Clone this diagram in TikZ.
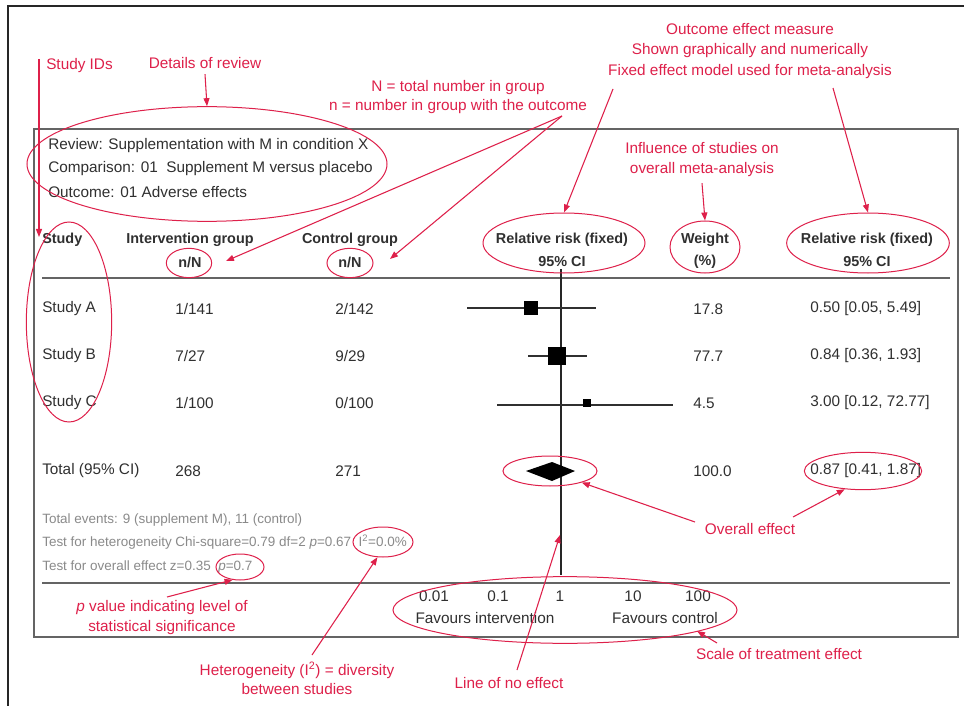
\documentclass[tikz,border=0pt]{standalone}
\usepackage{fontspec}
\setmainfont{Liberation Sans}
\usetikzlibrary{arrows.meta,shapes.geometric}
\definecolor{ann}{RGB}{222,32,74}
\definecolor{txt}{RGB}{48,48,48}
\definecolor{ftr}{RGB}{138,138,138}
\definecolor{frm}{RGB}{100,100,100}
\begin{document}
\begin{tikzpicture}[x=0.75pt,y=-0.75pt,
  t/.style={inner sep=0pt, text=txt, font=\fontsize{11.5}{13}\selectfont},
  hd/.style={inner sep=0pt, text=txt, font=\fontsize{10.8}{13}\selectfont\bfseries},
  ft/.style={inner sep=0pt, text=ftr, font=\fontsize{10.1}{12}\selectfont},
  an/.style={inner sep=0pt, text=ann, font=\fontsize{11.5}{14.5}\selectfont, align=center},
  ring/.style={draw=ann, line width=0.75pt, ellipse, inner sep=0pt},
  arr/.style={draw=ann, line width=0.8pt, -{Triangle[length=6pt,width=4.5pt]}},
  sq/.style={fill=black, draw=none, inner sep=0pt},
  ci/.style={draw=txt, line width=1pt},
  rule/.style={draw=frm, line width=1.6pt}]
\useasboundingbox (0,0) rectangle (964,706);
\fill[white] (0,0) rectangle (964,706);
% outer frame (cropped)
\draw[black!85, line width=1.1pt] (964,6) -- (8,6) -- (8,706);
% inner box
\draw[rule] (34,129) rectangle (958,637);
\draw[rule] (42,278) -- (950,278);
\draw[rule] (42,583) -- (950,583);

% review details
\node[t, anchor=west] (rev1) at (48,146) {Review: Supplementation with M in condition X};
\node[t, anchor=west] (rev2) at (48,169) {Comparison: 01\ \ Supplement M versus placebo};
\node[t, anchor=west] (rev3) at (48,192) {Outcome: 01 Adverse effects};

% headers
\node[hd, anchor=west] (hStudy) at (42,240) {Study};
\node[hd] (hInt) at (190,240) {Intervention group};
\node[hd] (hIntN) at (190,262) {n/N};
\node[hd] (hCon) at (350,240) {Control group};
\node[hd] (hConN) at (350,262) {n/N};
\node[hd] (hRR1) at (562,240) {Relative risk (fixed)};
\node[hd] (hRR1b) at (562,262) {95\% CI};
\node[hd] (hW) at (705,240) {Weight};
\node[hd] (hWb) at (705,262) {(\%)};
\node[hd] (hRR2) at (867,240) {Relative risk (fixed)};
\node[hd] (hRR2b) at (867,262) {95\% CI};

% rows
\node[t, anchor=west] (sA) at (42,309) {Study A};
\node[t, anchor=west] (sB) at (42,356) {Study B};
\node[t, anchor=west] (sC) at (42,403) {Study C};
\node[t, anchor=west] (sT) at (42,471) {Total (95\% CI)};
\node[t, anchor=west] (iA) at (175,309) {1/141};
\node[t, anchor=west] (iB) at (175,356) {7/27};
\node[t, anchor=west] (iC) at (175,403) {1/100};
\node[t, anchor=west] (iT) at (175,471) {268};
\node[t, anchor=west] (cA) at (335,309) {2/142};
\node[t, anchor=west] (cB) at (335,356) {9/29};
\node[t, anchor=west] (cC) at (335,403) {0/100};
\node[t, anchor=west] (cT) at (335,471) {271};
\node[t, anchor=west] (wA) at (693,309) {17.8};
\node[t, anchor=west] (wB) at (693,356) {77.7};
\node[t, anchor=west] (wC) at (693,403) {4.5};
\node[t, anchor=west] (wT) at (693,471) {100.0};
\node[t, anchor=west] (rA) at (810,309) {0.50 [0.05, 5.49]};
\node[t, anchor=west] (rB) at (810,356) {0.84 [0.36, 1.93]};
\node[t, anchor=west] (rC) at (810,403) {3.00 [0.12, 72.77]};
\node[t, anchor=west] (rT) at (810,471) {0.87 [0.41, 1.87]};

% forest plot
\draw[draw=black!85, line width=1.1pt] (561,269) -- (561,575);
\draw[ci] (467,308) -- (596,308);
\draw[ci] (528,356) -- (587,356);
\draw[ci] (497,405) -- (673,405);
\node[sq, minimum size=9.8pt] (sqA) at (531,308) {};
\node[sq, minimum size=13.2pt] (sqB) at (557,356) {};
\node[sq, minimum size=6.5pt] (sqC) at (587,403) {};
\fill[black] (526,471) -- (552,462) -- (575,471) -- (552,481) -- cycle;

% footer
\node[ft, anchor=west] (f1) at (42,520) {Total events: 9 (supplement M), 11 (control)};
\node[ft, anchor=west] (f2) at (42,542) {Test for heterogeneity Chi-square=0.79 df=2 \textit{p}=0.67\ \ I\textsuperscript{2}=0.0\%};
\node[ft, anchor=west] (f3) at (42,567) {Test for overall effect z=0.35\ \ \textit{p}=0.7};

% axis
\node[t] (a1) at (434,596) {0.01};
\node[t] (a2) at (498,596) {0.1};
\node[t] (a3) at (560,596) {1};
\node[t] (a4) at (633,596) {10};
\node[t] (a5) at (698,596) {100};
\node[t] (fav1) at (485,618) {Favours intervention};
\node[t] (fav2) at (665,618) {Favours control};

% annotation ellipses
\node[ring, minimum width=270pt, minimum height=86pt] (eRev) at (207,164) {};
\node[ring, minimum width=64pt, minimum height=150pt] (eStudy) at (69,322) {};
\node[ring, minimum width=34pt, minimum height=22pt] (eNi) at (189,263) {};
\node[ring, minimum width=34.5pt, minimum height=22pt] (eNc) at (350,263) {};
\node[ring, minimum width=121.5pt, minimum height=45pt] (eRR1) at (564,243) {};
\node[ring, minimum width=52.5pt, minimum height=39pt] (eW) at (705,247) {};
\node[ring, minimum width=122pt, minimum height=45pt] (eRR2) at (868,243) {};
\node[ring, minimum width=70.5pt, minimum height=22.5pt] (eDia) at (550,471) {};
\node[ring, minimum width=88pt, minimum height=28pt] (eTot) at (863,471) {};
\node[ring, minimum width=45pt, minimum height=22.5pt] (eI2) at (383,542) {};
\node[ring, minimum width=36pt, minimum height=19.5pt] (eP) at (240,567) {};
\node[ring, minimum width=258pt, minimum height=50pt] (eScale) at (565,610) {};

% annotation texts
\node[an, anchor=west] (tSID) at (46,66) {Study IDs};
\node[an] (tDet) at (205,63) {Details of review};
\node[an] (tN) at (458,97) {N = total number in group\\n = number in group with the outcome};
\node[an, font=\fontsize{11.5}{15.5}\selectfont] (tOut) at (750,51) {Outcome effect measure\\Shown graphically and numerically\\Fixed effect model used for meta-analysis};
\node[an] (tInf) at (702,159.5) {Influence of studies on\\overall meta-analysis};
\node[an] (tOv) at (750,529) {Overall effect};
\node[an] (tScale) at (779,654) {Scale of treatment effect};
\node[an] (tLine) at (509,683) {Line of no effect};
\node[an] (tHet) at (297,678.5) {Heterogeneity (I\textsuperscript{2}) = diversity\\between studies};
\node[an] (tPv) at (162,617.5) {\textit{p} value indicating level of\\statistical significance};

% arrow endpoints
\coordinate (sidTop) at (39,59);
\coordinate (sidTip) at (39,237);
\coordinate (nFrom) at (562,116);
\coordinate (nTipI) at (226,261);
\coordinate (nTipC) at (390,259);
\coordinate (oFrom1) at (613,89);
\coordinate (oFrom2) at (833,88);
\coordinate (ovFrom1) at (695,522);
\coordinate (ovFrom2) at (793,517);
\coordinate (scFrom) at (717,643);
\coordinate (scTip) at (697,631);
\coordinate (lnFrom) at (517,670);
\coordinate (lnTip) at (560,535);
\coordinate (htFrom) at (312,655);
\coordinate (pvFrom) at (167,597);

% arrows
\draw[arr] (sidTop) -- (sidTip);
\draw[arr] ([yshift=-4pt]tDet.south) -- (eRev.north);
\draw[arr] (nFrom) -- (nTipI);
\draw[arr] (nFrom) -- (nTipC);
\draw[arr] (oFrom1) -- (eRR1.north);
\draw[arr] (oFrom2) -- (eRR2.north);
\draw[arr] ([yshift=-5pt]tInf.south) -- (eW.north);
\draw[arr] (ovFrom1) -- (eDia.-20);
\draw[arr] (ovFrom2) -- (eTot.-135);
\draw[arr] (scFrom) -- (scTip);
\draw[arr] (lnFrom) -- (lnTip);
\draw[arr] (htFrom) -- (eI2.-110);
\draw[arr] (pvFrom) -- (eP.-120);
\end{tikzpicture}
\end{document}
